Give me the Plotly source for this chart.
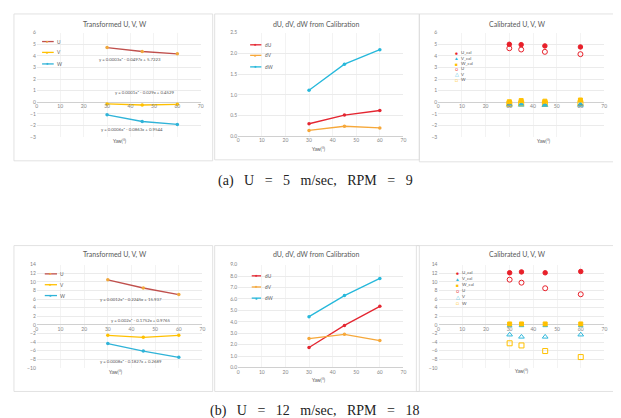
import plotly.graph_objects as go

# ---------------- data ----------------
yaw = [30, 45, 60]
yaw_cal = [30, 35, 45, 60]

# (a) U = 5 m/sec
a_U = [4.72, 4.38, 4.18]
a_V = [-0.14, -0.23, -0.17]
a_W = [-1.08, -1.65, -1.90]
a_dU = [0.30, 0.51, 0.62]
a_dV = [0.14, 0.24, 0.20]
a_dW = [1.11, 1.74, 2.09]
a_Ucal = [5.00, 4.97, 4.86, 4.77]
a_Vcal = [-0.15, -0.15, -0.18, -0.15]
a_Wcal = [0.05, 0.15, 0.10, 0.20]
a_Uraw = [4.66, 4.55, 4.35, 4.15]
a_Vraw = [-0.22, -0.22, -0.25, -0.22]
a_Wraw = [-0.12, -0.08, -0.08, -0.06]
a_eq = ["y = 0.0003x² - 0.0497x + 5.7223",
        "y = 0.0001x² - 0.029x + 0.4529",
        "y = 0.0006x² - 0.0863x + 0.9544"]

# (b) U = 12 m/sec
b_U = [10.47, 8.56, 7.03]
b_V = [-2.45, -2.90, -2.45]
b_W = [-4.36, -6.10, -7.57]
b_dU = [1.75, 3.68, 5.35]
b_dV = [2.53, 2.90, 2.36]
b_dW = [4.45, 6.29, 7.79]
b_Ucal = [12.10, 12.30, 12.10, 12.40]
b_Vcal = [-0.20, -0.20, -0.20, -0.20]
b_Wcal = [0.20, 0.20, 0.20, 0.20]
b_Uraw = [10.50, 9.80, 8.50, 7.10]
b_Vraw = [-2.30, -2.80, -2.80, -2.30]
b_Wraw = [-4.30, -4.80, -6.10, -7.50]
b_eq = ["y = 0.0012x² - 0.2245x + 15.937",
        "y = 0.002x² - 0.1752x + 0.9765",
        "y = 0.0008x² - 0.1827x + 0.2689"]

titles = ["Transformed U, V, W", "dU, dV, dW from Calibration", "Calibrated U, V, W"]
names_tr = ["U", "V", "W"]
names_d = ["dU", "dV", "dW"]
names_cal = ["U_cal", "V_cal", "W_cal", "U", "V", "W"]
x_title = "Yaw(°)"
S = "\u00a0\u00a0\u00a0"
captions = ["(a)" + S + "U" + S + "=" + S + "5" + S + "m/sec," + S + "RPM" + S + "=" + S + "9",
            "(b)" + S + "U" + S + "=" + S + "12" + S + "m/sec," + S + "RPM" + S + "=" + S + "18"]

# ---------------- styling ----------------
W, H = 621, 418
def px(x):
    return x / W
def py(y):
    return 1 - y / H

C_U_line = "#C0504D"
C_U_mk = "#F0A83C"
C_V = "#FFC000"
C_W = "#2FB3D8"
C_dU = "#E42631"
C_dV = "#F6A83A"
C_dW = "#26B8DB"
C_red = "#E8202A"
C_yel = "#FFC000"
C_blu = "#2FB8DC"
TXT = "#595959"
TICK = "#858585"
GRID = "#EBEBEB"
FONT = "Lato"

# panel geometry in pixels
panels = [
    dict(x0=28, x1=193, yt=22, yb=128, yr=[-3, 6], dt=1, fmt="d"),
    dict(x0=230.7, x1=397, yt=22, yb=127, yr=[0, 2.5], dt=0.5, fmt=".1f"),
    dict(x0=432, x1=599, yt=22, yb=128, yr=[-3, 6], dt=1, fmt="d"),
    dict(x0=28, x1=194.7, yt=257.3, yb=362, yr=[-10, 14], dt=2, fmt="d"),
    dict(x0=230.7, x1=397, yt=257.3, yb=361.7, yr=[0, 9], dt=1, fmt=".1f"),
    dict(x0=432.3, x1=599.3, yt=257.3, yb=362, yr=[-10, 14], dt=2, fmt="d"),
]

fig = go.Figure()
layout = dict(width=W, height=H, margin=dict(l=0, r=0, t=0, b=0),
              paper_bgcolor="white", plot_bgcolor="white", showlegend=False)

for i, p in enumerate(panels):
    k = "" if i == 0 else str(i + 1)
    ymin, ymax = p["yr"]
    zero_px = p["yt"] + (ymax - 0) / (ymax - ymin) * (p["yb"] - p["yt"])
    xa = dict(domain=[px(p["x0"]), px(p["x1"])], range=[0, 70], dtick=10,
              showgrid=True, gridcolor="#F3F3F3", gridwidth=0.6, zeroline=False,
              showline=False, ticks="", tickfont=dict(family=FONT, size=5, color=TICK),
              fixedrange=True)
    if ymin < 0:
        xa.update(anchor="free", position=py(zero_px))
    else:
        xa.update(anchor="y" + k)
    ya = dict(domain=[py(p["yb"]), py(p["yt"])], range=p["yr"], dtick=p["dt"],
              tickformat=p["fmt"], showgrid=True, gridcolor=GRID, gridwidth=0.6,
              zeroline=True, zerolinecolor="#D0D0D0", zerolinewidth=0.8,
              showline=False, ticks="", anchor="x" + k,
              tickfont=dict(family=FONT, size=5, color=TICK), fixedrange=True)
    layout["xaxis" + k] = xa
    layout["yaxis" + k] = ya

def line_trace(x, y, ax, lc, mc):
    k = "" if ax == 1 else str(ax)
    return go.Scatter(x=x, y=y, xaxis="x" + k, yaxis="y" + k, mode="lines+markers",
                      line=dict(color=lc, width=1.3),
                      marker=dict(color=mc, size=3.5, symbol="circle"))

def pt_trace(x, y, ax, color, symbol, size):
    k = "" if ax == 1 else str(ax)
    return go.Scatter(x=x, y=y, xaxis="x" + k, yaxis="y" + k, mode="markers",
                      marker=dict(color=color, size=size, symbol=symbol,
                                  line=dict(color=color, width=1)))

# transformed
for ax, (U, V, Wd) in [(1, (a_U, a_V, a_W)), (4, (b_U, b_V, b_W))]:
    fig.add_trace(line_trace(yaw, U, ax, C_U_line, C_U_mk))
    fig.add_trace(line_trace(yaw, V, ax, C_V, C_V))
    fig.add_trace(line_trace(yaw, Wd, ax, C_W, C_W))
# deltas
for ax, (dU, dV, dW) in [(2, (a_dU, a_dV, a_dW)), (5, (b_dU, b_dV, b_dW))]:
    fig.add_trace(line_trace(yaw, dU, ax, C_dU, C_dU))
    fig.add_trace(line_trace(yaw, dV, ax, C_dV, C_dV))
    fig.add_trace(line_trace(yaw, dW, ax, C_dW, C_dW))
# calibrated
for ax, (Uc, Vc, Wc, Ur, Vr, Wr) in [(3, (a_Ucal, a_Vcal, a_Wcal, a_Uraw, a_Vraw, a_Wraw)),
                                     (6, (b_Ucal, b_Vcal, b_Wcal, b_Uraw, b_Vraw, b_Wraw))]:
    fig.add_trace(pt_trace(yaw_cal, Ur, ax, C_red, "circle-open", 5))
    fig.add_trace(pt_trace(yaw_cal, Vr, ax, C_blu, "triangle-up-open", 5))
    fig.add_trace(pt_trace(yaw_cal, Wr, ax, C_yel, "square-open", 5))
    fig.add_trace(pt_trace(yaw_cal, Uc, ax, C_red, "circle", 4.5))
    fig.add_trace(pt_trace(yaw_cal, Vc, ax, C_blu, "triangle-up", 4))
    fig.add_trace(pt_trace(yaw_cal, Wc, ax, C_yel, "square", 4))

annotations = []
shapes = []

def text(x, y, s, size=4.5, color=TXT, family=FONT, xanchor="center"):
    annotations.append(dict(x=px(x), y=py(y), xref="paper", yref="paper", text=s,
                            showarrow=False, xanchor=xanchor, yanchor="middle",
                            font=dict(family=family, size=size, color=color)))

# panel boxes
boxes = [(5, 205, 3, 152), (207, 413, 3, 151), (413, 612, 3, 153),
         (5, 205, 238, 386), (207, 413, 238, 386), (410, 612, 238, 386)]
for (x0, x1, y0, y1) in boxes:
    shapes.append(dict(type="rect", xref="paper", yref="paper", x0=px(x0), x1=px(x1),
                       y0=py(y1), y1=py(y0), line=dict(color="#DADADA", width=0.8),
                       layer="below"))

# titles
title_pos = [(106.7, 13.3), (309, 13.3), (511.7, 14), (106.7, 246.7), (309, 246.7), (511.7, 246.7)]
for i, (x, y) in enumerate(title_pos):
    text(x, y, titles[i % 3], size=7)

# x titles
yaw_pos = [(111.7, 132), (311.7, 140), (538, 131.7), (108, 366.7), (311.7, 374.7), (516.7, 365.7)]
for (x, y) in yaw_pos:
    text(x, y, x_title, size=4.8)

# equations
eq_pos_a = [(121.7, 49), (136.7, 83), (123.3, 120.3)]
eq_pos_b = [(123, 292.7), (132, 314.5), (123, 356)]
for s, (x, y) in zip(a_eq, eq_pos_a):
    text(x, y, s, size=4.3)
for s, (x, y) in zip(b_eq, eq_pos_b):
    text(x, y, s, size=4.3)

# legends for line charts
def line_legend(x0, x1, ys, names, lcolors, mcolors):
    for yy, nm, lc, mc in zip(ys, names, lcolors, mcolors):
        shapes.append(dict(type="line", xref="paper", yref="paper", x0=px(x0), x1=px(x1),
                           y0=py(yy), y1=py(yy), line=dict(color=lc, width=1.3)))
        text((x0 + x1) / 2, yy, "●", size=4, color=mc)
        text(x1 + 1.5, yy, nm, size=4.8, xanchor="left")

line_legend(33.3, 45, [31, 42, 53.7], names_tr, [C_U_line, C_V, C_W], [C_U_mk, C_V, C_W])
line_legend(36, 48.3, [266.7, 277.7, 288.7], names_tr, [C_U_line, C_V, C_W], [C_U_mk, C_V, C_W])
line_legend(242.7, 254, [34.3, 45, 56.7], names_d, [C_dU, C_dV, C_dW], [C_dU, C_dV, C_dW])
line_legend(244.3, 253.7, [268.7, 280, 291.3], names_d, [C_dU, C_dV, C_dW], [C_dU, C_dV, C_dW])

# legends for calibrated charts
cal_syms = ["●", "▲", "■", "○", "△", "□"]
cal_cols = [C_red, C_blu, C_yel, C_red, C_blu, C_yel]
def cal_legend(xm, ys):
    for yy, nm, sym, col in zip(ys, names_cal, cal_syms, cal_cols):
        text(xm, yy, sym, size=4.8, color=col)
        text(xm + 2.5, yy, nm, size=4.4, xanchor="left")

cal_legend(450.7, [42.3, 48, 53.3, 58.7, 64.3, 70])
cal_legend(451.7, [265.7, 271.7, 277.7, 284, 290, 296.3])

# captions
text(308, 172, captions[0], size=14, color="#222222", family="Liberation Serif")
text(307.5, 405.5, captions[1], size=14, color="#222222", family="Liberation Serif")

layout["annotations"] = annotations
layout["shapes"] = shapes
fig.update_layout(**layout)
fig.write_html("out.html")
